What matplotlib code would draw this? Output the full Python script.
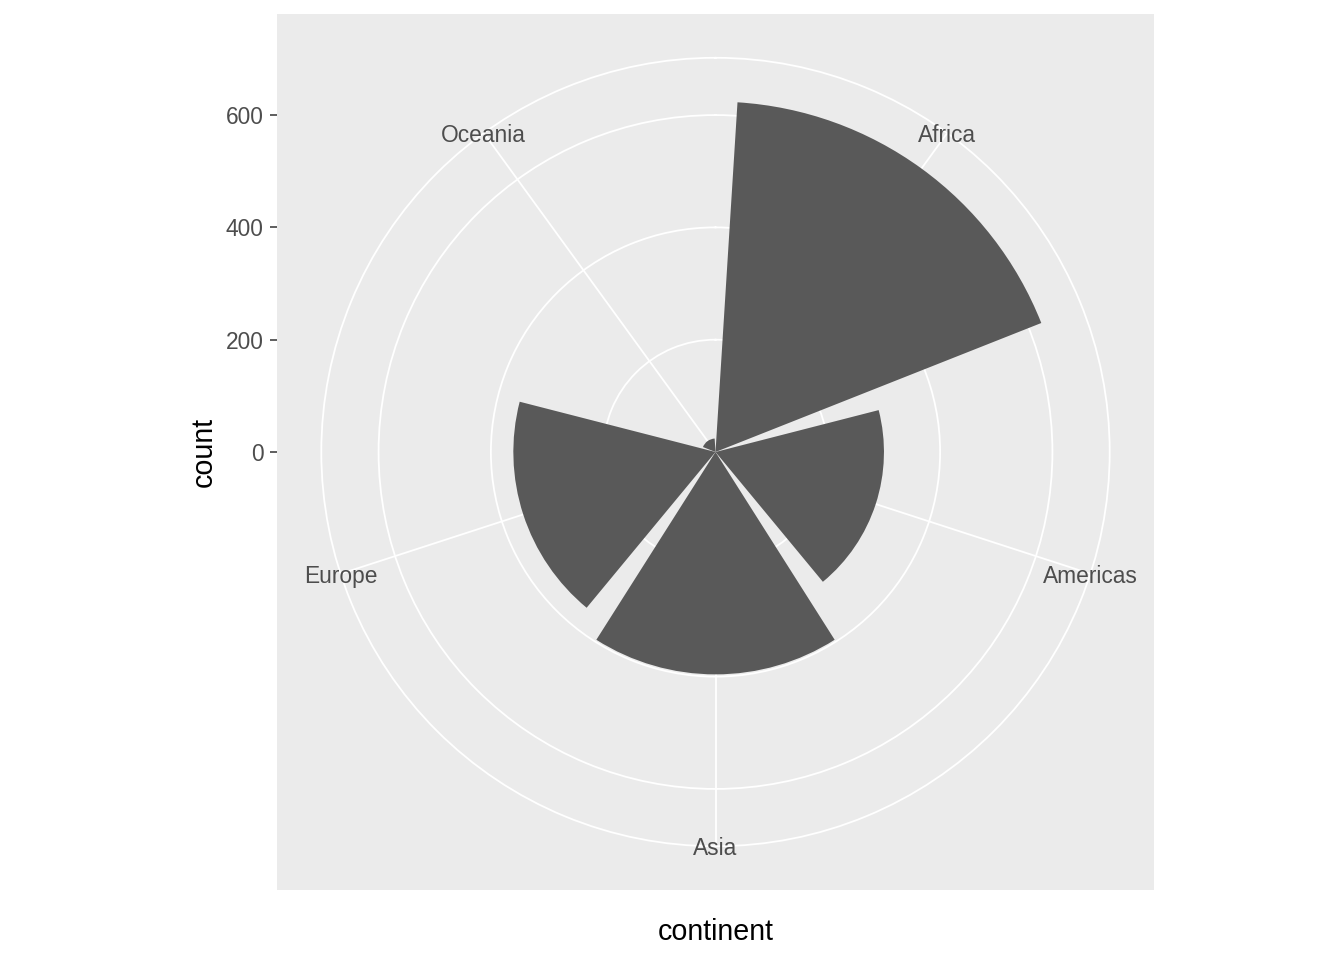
import numpy as np
import matplotlib.pyplot as plt

# gapminder rows per continent
continents = ["Africa", "Americas", "Asia", "Europe", "Oceania"]
counts = [624, 300, 396, 360, 24]
r_breaks = [0, 200, 400, 600]

plt.rcParams['font.family'] = ['Liberation Sans', 'DejaVu Sans']

fig = plt.figure(figsize=(13.44, 9.6), dpi=100)

# square grey panel, carries the r axis on its left side
pl, pb, pw, ph = 277/1344, 70/960, 877/1344, 876/960
back = fig.add_axes([pl, pb, pw, ph])
back.set_facecolor('#EBEBEB')
rmax = max(counts)            # r scale ends at the data max (radius 0.4)
outer = rmax / 0.4 * 0.45     # theta label circle at 0.45
half = rmax / 0.4 * 0.5
back.set_xlim(-half, half)
back.set_ylim(-half, half)
back.set_xticks([])
back.set_yticks(r_breaks)
back.set_yticklabels([str(b) for b in r_breaks])
back.tick_params(axis='y', length=5.3, width=1.1, color='#333333',
                 labelcolor='#4D4D4D', labelsize=16.4, pad=4.2)
for s in back.spines.values():
    s.set_visible(False)
back.set_ylabel('count', fontsize=20.6, labelpad=6)
back.set_xlabel('continent', fontsize=20.6, labelpad=20)

# polar axes inside, radius 0.45 of the panel
ax = fig.add_axes([pl + 0.05*pw, pb + 0.05*ph, 0.9*pw, 0.9*ph], projection='polar')
ax.set_facecolor('none')
ax.set_theta_zero_location('N')
ax.set_theta_direction(-1)

n = len(continents)
step = 2*np.pi / n
theta = np.arange(n) * step + step/2
ax.bar(theta, counts, width=0.9*step, color='#595959', zorder=3)

ax.set_ylim(0, outer)
ax.set_yticks(r_breaks[1:])
ax.set_yticklabels([])
ax.set_xticks(theta)
ax.set_xticklabels([])
ax.tick_params(length=0)
ax.grid(True, color='white', linewidth=1.3)
ax.spines['polar'].set_color('white')
ax.spines['polar'].set_linewidth(1.3)

for t, name in zip(theta, continents):
    ax.text(t, outer, name, ha='center', va='center_baseline', fontsize=16.4,
            color='#4D4D4D', zorder=4, clip_on=False)

fig.savefig('out.png', dpi=100)
